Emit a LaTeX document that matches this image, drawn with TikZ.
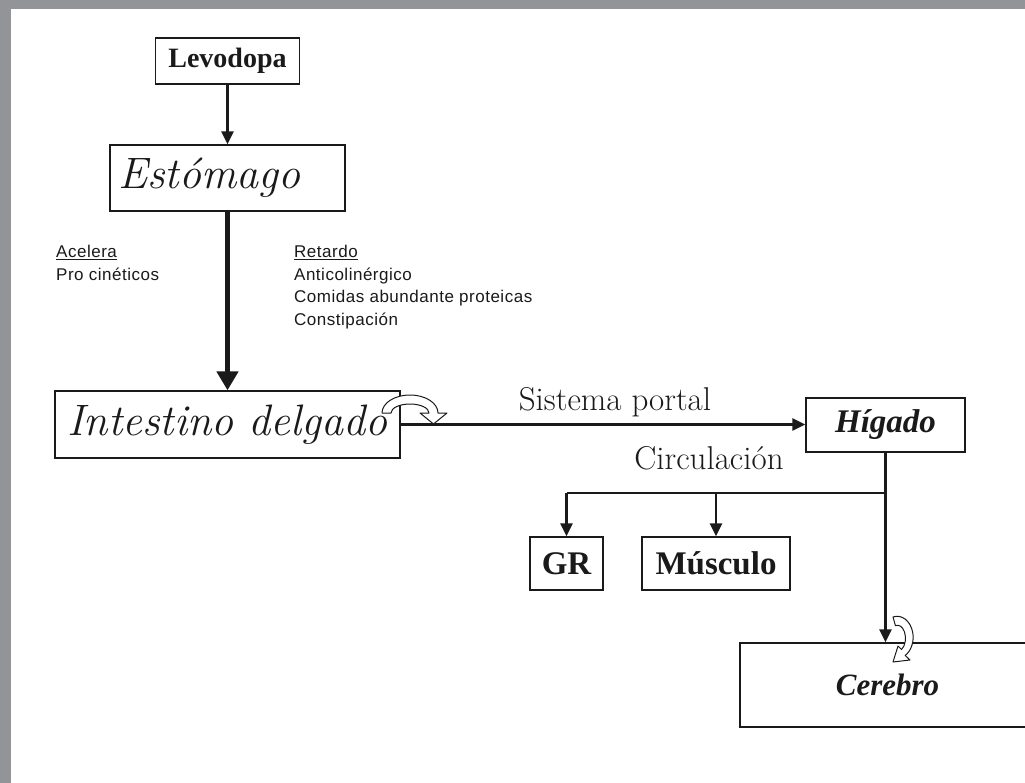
\documentclass[tikz,border=0pt]{standalone}
\usepackage{fontspec}
\newfontfamily\timesf{Liberation Serif}
\newfontfamily\arialf[LetterSpace=3]{Liberation Sans}
\usetikzlibrary{arrows.meta}
\definecolor{frame}{HTML}{939497}
\definecolor{ink}{HTML}{1A1A1A}
\begin{document}
\begin{tikzpicture}[x=1pt,y=-1pt,
  box/.style={draw=ink, line width=1.3pt, inner sep=0pt, text=ink},
  bigital/.style={font=\fontsize{44}{48}\selectfont\itshape},
  boldlbl/.style={font=\timesf\bfseries\fontsize{#1}{#1}\selectfont},
  bolditlbl/.style={font=\timesf\bfseries\itshape\fontsize{#1}{#1}\selectfont},
  romanlbl/.style={font=\fontsize{33}{36}\selectfont, text=ink, inner sep=0pt},
  sanslbl/.style={font=\arialf\fontsize{17}{22}\selectfont, text=ink, inner sep=0pt, anchor=base west},
  thinarrow/.style={draw=ink, line width=2.5pt, -{Triangle[length=13pt,width=12pt]}},
  thickarrow/.style={draw=ink, line width=5.5pt, -{Triangle[length=19pt,width=21pt]}},
  plainline/.style={draw=ink, line width=2.5pt},
  turnicon/.style={draw=ink, line width=1pt, fill=white, line join=round}
]
\clip (0,0) rectangle (1025,783);
\fill[white] (0,0) rectangle (1025,783);
% grey frame along top and left edge
\fill[frame] (0,0) rectangle (1025,9);
\fill[frame] (0,0) rectangle (11,783);

% boxes
\node[box, boldlbl=28, minimum width=144pt, minimum height=46pt] (levo) at (227.5,61) {Levodopa};
\node[box, bigital, minimum height=66pt, text width=219pt, inner xsep=8pt, align=left] (esto) at (227.5,178) {Estómago};
\node[box, bigital, minimum width=345pt, minimum height=67pt] (intes) at (227.5,424.5) {Intestino delgado};
\node[box, bolditlbl=33, minimum width=159pt, minimum height=54pt] (higado) at (885.5,425) {Hígado};
\node[box, boldlbl=33, minimum width=73pt, minimum height=53pt] (gr) at (566.5,563.5) {GR};
\node[box, boldlbl=33, minimum width=148pt, minimum height=53pt] (musculo) at (716,563.5) {Músculo};
\node[box, bolditlbl=31, minimum width=295pt, minimum height=84pt] (cerebro) at (887.5,685) {Cerebro};

% side notes on the stomach-to-intestine passage
\node[sanslbl] (acel) at (56,258) {\underline{Acelera}};
\node[sanslbl] (proc) at (56,280.5) {Pro cinéticos};
\node[sanslbl] (ret) at (294,258) {\underline{Retardo}};
\node[sanslbl] (anti) at (294,280.5) {Anticolinérgico};
\node[sanslbl] (comid) at (294,303) {Comidas abundante proteicas};
\node[sanslbl] (const) at (294,325.5) {Constipación};

% connectors
\draw[thinarrow] (levo.south) -- (esto.north);
\draw[thickarrow] (esto.south) -- (intes.north);
\draw[thinarrow] (intes.east) -- (intes.east -| higado.west);
\draw[thinarrow] (higado.south) -- (higado.south |- cerebro.north);
\coordinate (branch) at (885.5,493);
\draw[plainline] (branch) -- (branch -| gr.north);
\draw[thinarrow] (branch -| gr.north) -- (gr.north);
\draw[thinarrow] (branch -| musculo.north) -- (musculo.north);

% connector labels
\node[romanlbl, anchor=base] (portal) at (615,410) {Sistema portal};
\node[romanlbl, anchor=base] (circ) at (709,469) {Circulación};

% hollow turning arrows
\draw[turnicon] (382,413) arc[start angle=180,end angle=360,x radius=28,y radius=18]
  -- (447,413) -- (433.5,424) -- (420,413) -- (429,413)
  arc[start angle=360,end angle=180,x radius=19,y radius=9] -- cycle;
\draw[turnicon] (893,617) arc[start angle=255,end angle=420,x radius=16,y radius=21]
  -- (910,660) -- (893,662) -- (898,646) -- (901.5,649.5)
  arc[start angle=420,end angle=255,x radius=8,y radius=13] -- cycle;
\end{tikzpicture}
\end{document}
